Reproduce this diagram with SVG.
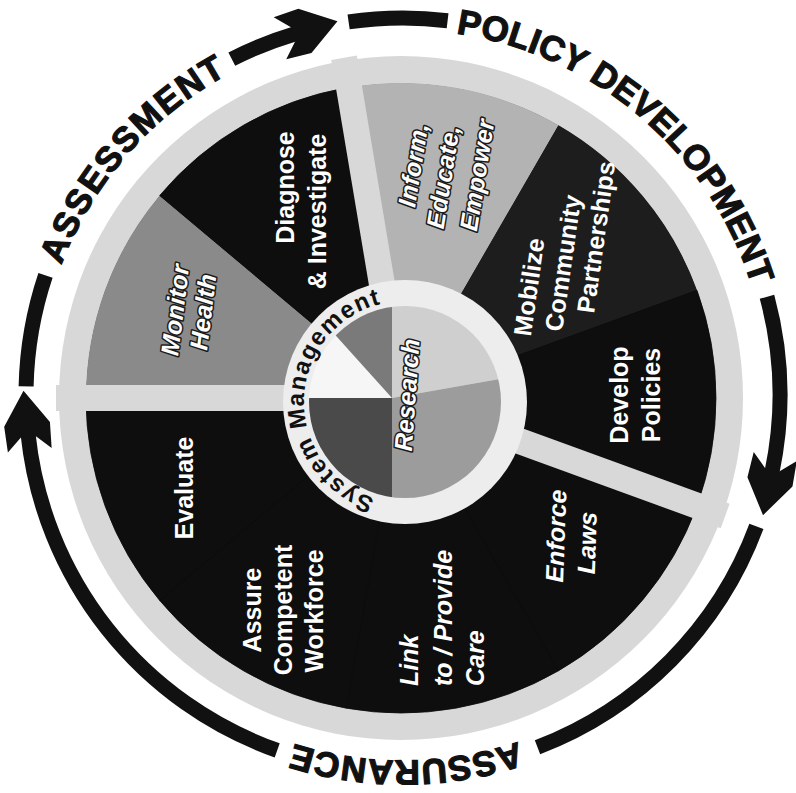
<svg xmlns="http://www.w3.org/2000/svg" width="796" height="793" viewBox="0 0 796 793">
<defs>
<style>
.wt{font-family:"Liberation Sans",Arial,sans-serif;font-weight:bold;font-size:25px;fill:#fff;text-anchor:middle}
.it{font-style:italic}
.ol{stroke:#1a1a1a;stroke-width:3px;paint-order:stroke;stroke-linejoin:round}
.arc{fill:none;stroke:#111;stroke-width:15}
.ht{font-family:"Liberation Sans",Arial,sans-serif;font-weight:bold;font-size:35px;fill:#111;stroke:#111;stroke-width:1.2px;text-anchor:middle}
.sm{font-family:"Liberation Sans",Arial,sans-serif;font-weight:bold;font-size:24px;fill:#111;text-anchor:middle;letter-spacing:1.4px}
.gap{fill:#d8d8d8}
.blk{fill:#0e0e0e;stroke:#0e0e0e;stroke-width:0.8}
</style>
<marker id="ah" markerUnits="userSpaceOnUse" viewBox="0 0 62 48" markerWidth="62" markerHeight="48" refX="18" refY="24" orient="auto">
<path d="M62,24 L28,1 L2,2 L16,17 L16,31 L2,46 L28,47 Z" fill="#111"/>
</marker>
<path id="outerText" d="M403,29.5 A365.5,365.5 0 1,1 403,760.5 A365.5,365.5 0 1,1 403,29.5"/>
<path id="innerText" d="M405,503 A101,101 0 1,1 405,301 A101,101 0 1,1 405,503"/>
<clipPath id="pie"><circle cx="405" cy="402" r="96"/></clipPath>
</defs>

<rect width="796" height="793" fill="#fff"/>

<!-- halo and wheel base -->
<circle cx="401" cy="398" r="342" fill="#d8d8d8"/>
<circle cx="401" cy="398" r="314.6" fill="#0e0e0e"/>

<g id="monitor-health">
<path d="M401,398 L86,398 A315,315 0 0,1 159.7,195.5 Z" fill="#8a8a8a"/>
<text class="wt it ol" font-size="27" transform="translate(175,310) rotate(-83)" dy="0.35em">Monitor</text>
<text class="wt it ol" font-size="27" transform="translate(203,312) rotate(-83)" dy="0.35em">Health</text>
</g>
<g id="diagnose-investigate">
<path class="blk" d="M401,398 L159.7,195.5 A315,315 0 0,1 346.3,87.8 Z"/>
<text class="wt" transform="translate(285,187.5) rotate(-90)" dy="0.35em">Diagnose</text>
<text class="wt" transform="translate(317,211.5) rotate(-90)" dy="0.35em">&amp; Investigate</text>
</g>
<g id="inform-educate-empower">
<path d="M401,398 L346.3,87.8 A315,315 0 0,1 558.5,125.2 Z" fill="#b3b3b3"/>
</g>
<g id="mobilize">
<path d="M401,398 L558.5,125.2 A315,315 0 0,1 697,290.3 Z" fill="#1d1d1d"/>
</g>
<g id="develop-policies">
<path class="blk" d="M401,398 L697,290.3 A315,315 0 0,1 697,505.7 Z"/>
</g>
<g id="enforce-laws">
<path class="blk" d="M401,398 L697,505.7 A315,315 0 0,1 558.5,670.8 Z"/>
</g>
<g id="link-provide-care">
<path class="blk" d="M401,398 L558.5,670.8 A315,315 0 0,1 346.3,708.2 Z"/>
</g>
<g id="assure-workforce">
<path class="blk" d="M401,398 L346.3,708.2 A315,315 0 0,1 159.7,600.5 Z"/>
</g>
<g id="evaluate">
<path class="blk" d="M401,398 L159.7,600.5 A315,315 0 0,1 86,398 Z"/>
</g>

<g id="sector-gaps">
<rect class="gap" x="-13" y="-345" width="26" height="345" transform="translate(401,398) rotate(270)"/>
<rect class="gap" x="-13" y="-345" width="26" height="345" transform="translate(401,398) rotate(350.5)"/>
<rect class="gap" x="-13" y="-345" width="26" height="345" transform="translate(401,398) rotate(110)"/>
</g>

<g id="service-labels">
<text class="wt it ol" font-size="24" transform="translate(413,165) rotate(-81)" dy="0.35em">Inform,</text>
<text class="wt it ol" font-size="24" transform="translate(443,177) rotate(-81)" dy="0.35em">Educate,</text>
<text class="wt it ol" font-size="24" transform="translate(477,175) rotate(-81)" dy="0.35em">Empower</text>
<text class="wt" transform="translate(529,287) rotate(-82)" dy="0.35em">Mobilize</text>
<text class="wt" transform="translate(563,263) rotate(-82)" dy="0.35em">Community</text>
<text class="wt" transform="translate(596,237) rotate(-82)" dy="0.35em">Partnerships</text>
<text class="wt" transform="translate(619,395) rotate(-90)" dy="0.35em">Develop</text>
<text class="wt" transform="translate(651,395) rotate(-90)" dy="0.35em">Policies</text>
<text class="wt it" transform="translate(556,536) rotate(-88)" dy="0.35em">Enforce</text>
<text class="wt it" transform="translate(587,543) rotate(-88)" dy="0.35em">Laws</text>
<text class="wt it" style="text-anchor:start" transform="translate(409,686) rotate(-90)" dy="0.35em">Link</text>
<text class="wt it" style="text-anchor:start" transform="translate(443,686) rotate(-90)" dy="0.35em">to / Provide</text>
<text class="wt it" style="text-anchor:start" transform="translate(475,686) rotate(-90)" dy="0.35em">Care</text>
<text class="wt" transform="translate(252,610) rotate(-90)" dy="0.35em">Assure</text>
<text class="wt" transform="translate(283,610) rotate(-90)" dy="0.35em">Competent</text>
<text class="wt" transform="translate(314,611) rotate(-90)" dy="0.35em">Workforce</text>
<text class="wt" transform="translate(184,488) rotate(-90)" dy="0.35em">Evaluate</text>
</g>

<g id="system-management">
<circle cx="405" cy="402" r="122" fill="#ededed"/>
<text class="sm"><textPath href="#innerText" startOffset="162">System Management</textPath></text>
</g>

<g id="research">
<g clip-path="url(#pie)">
<polygon points="392,398 192,398 258.2,249.4" fill="#f6f6f6"/>
<polygon points="392,398 258.2,249.4 392,198" fill="#7a7a7a"/>
<polygon points="392,398 392,198 589,363.3" fill="#cfcfcf"/>
<polygon points="392,398 589,363.3 545.2,526.6 392,598" fill="#9c9c9c"/>
<polygon points="392,398 392,598 250.6,539.4 192,398" fill="#4a4a4a"/>
</g>
<text class="wt it ol" font-size="28" transform="translate(407,395) rotate(-86)" dy="0.35em">Research</text>
</g>

<g id="connectors">
<path class="arc" d="M277.2,750.4 A377,377 0 0,1 28.1,434.4" marker-end="url(#ah)"/>
<path class="arc" d="M26.1,386.4 A377,377 0 0,1 45.5,275.4"/>
<path class="arc" d="M231.8,59.1 A377,377 0 0,1 295.3,33.7" marker-end="url(#ah)"/>
<path class="arc" d="M348.6,21.9 A377,377 0 0,1 447.6,20.7"/>
<path class="arc" d="M767,296.8 A377,377 0 0,1 772,472.1" marker-end="url(#ah)"/>
<path class="arc" d="M756.4,526.4 A377,377 0 0,1 537.5,747.2"/>
</g>

<g id="phase-labels">
<text class="ht" style="letter-spacing:1.8px"><textPath href="#outerText" startOffset="1984">ASSESSMENT</textPath></text>
<text class="ht" style="letter-spacing:0.2px"><textPath href="#outerText" startOffset="258">POLICY DEVELOPMENT</textPath></text>
<text class="ht" style="letter-spacing:0.8px"><textPath href="#outerText" startOffset="1145">ASSURANCE</textPath></text>
</g>
</svg>
